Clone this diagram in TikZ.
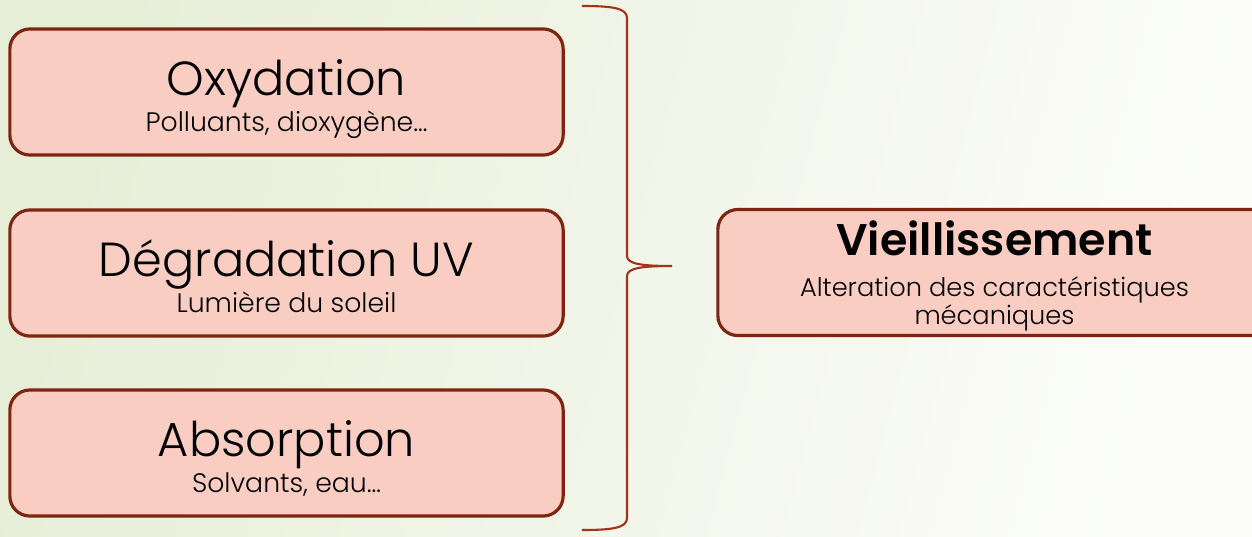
\documentclass[tikz,border=0pt]{standalone}
\usepackage{fontspec}
\setmainfont{Poppins}[UprightFont=* Light, BoldFont=* SemiBold]
\usepackage{tikz}
\usetikzlibrary{positioning}
\definecolor{bgleft}{HTML}{E7EED8}
\definecolor{bgmid}{HTML}{F6F8EF}
\definecolor{bgright}{HTML}{FCFDF9}
\definecolor{boxfill}{HTML}{F9CDC2}
\definecolor{boxline}{HTML}{7E2511}
\definecolor{braceline}{HTML}{A0331A}

\begin{document}
\begin{tikzpicture}[x=0.01cm, y=-0.01cm,
		cause/.style={draw=boxline, fill=boxfill, line width=0.9pt, rounded corners=0.2cm, minimum width=5.53cm, minimum height=1.26cm, align=center, inner sep=0pt},
		big/.style={font=\fontsize{13.6}{16}\selectfont},
		small/.style={font=\fontsize{7.6}{7.6}\selectfont}]
		\useasboundingbox (0, 0) rectangle (1252, 536);
		\shade[left color=bgleft, middle color=bgmid, right color=bgright, shading angle=75] (0, 0) rectangle (1252, 536);
		\node[cause] (oxy) at (286.5, 92) {};
		\node[big, anchor=base] (oxyt) at (286.5, 95) {Oxydation};
		\node[small, anchor=base] (oxys) at (286.5, 131) {Polluants, dioxygène…};
		\node[cause] (uv) at (286.5, 273) {};
		\node[big, anchor=base] (uvt) at (286.5, 276) {Dégradation UV};
		\node[small, anchor=base] (uvs) at (286.5, 312) {Lumière du soleil};
		\node[cause] (abs) at (286.5, 453) {};
		\node[big, anchor=base] (abst) at (286.5, 456) {Absorption};
		\node[small, anchor=base] (abss) at (286.5, 492) {Solvants, eau…};
		\node[cause] (vie) at (994.5, 272.5) {};
		\node[big, anchor=base, font=\fontsize{12.6}{16}\selectfont\bfseries] (viet) at (994.5, 255) {Vieillissement};
		\node[small, anchor=base, font=\fontsize{7.3}{7.6}\selectfont] (vies1) at (994.5, 296) {Alteration des caractéristiques};
		\node[small, anchor=base, font=\fontsize{7.3}{7.6}\selectfont] (vies2) at (994.5, 324) {mécaniques};
		\coordinate (tip) at (672, 266);
		\draw[braceline, line width=0.6pt] (582, 6) .. controls (612, 6) and (627, 8) .. (627, 18) -- (627, 256) .. controls (627, 264) and (642, 266) .. (tip) .. controls (642, 266) and (627, 268) .. (627, 276) -- (627, 518) .. controls (627, 528) and (612, 530) .. (582, 530);
\end{tikzpicture}
\end{document}
